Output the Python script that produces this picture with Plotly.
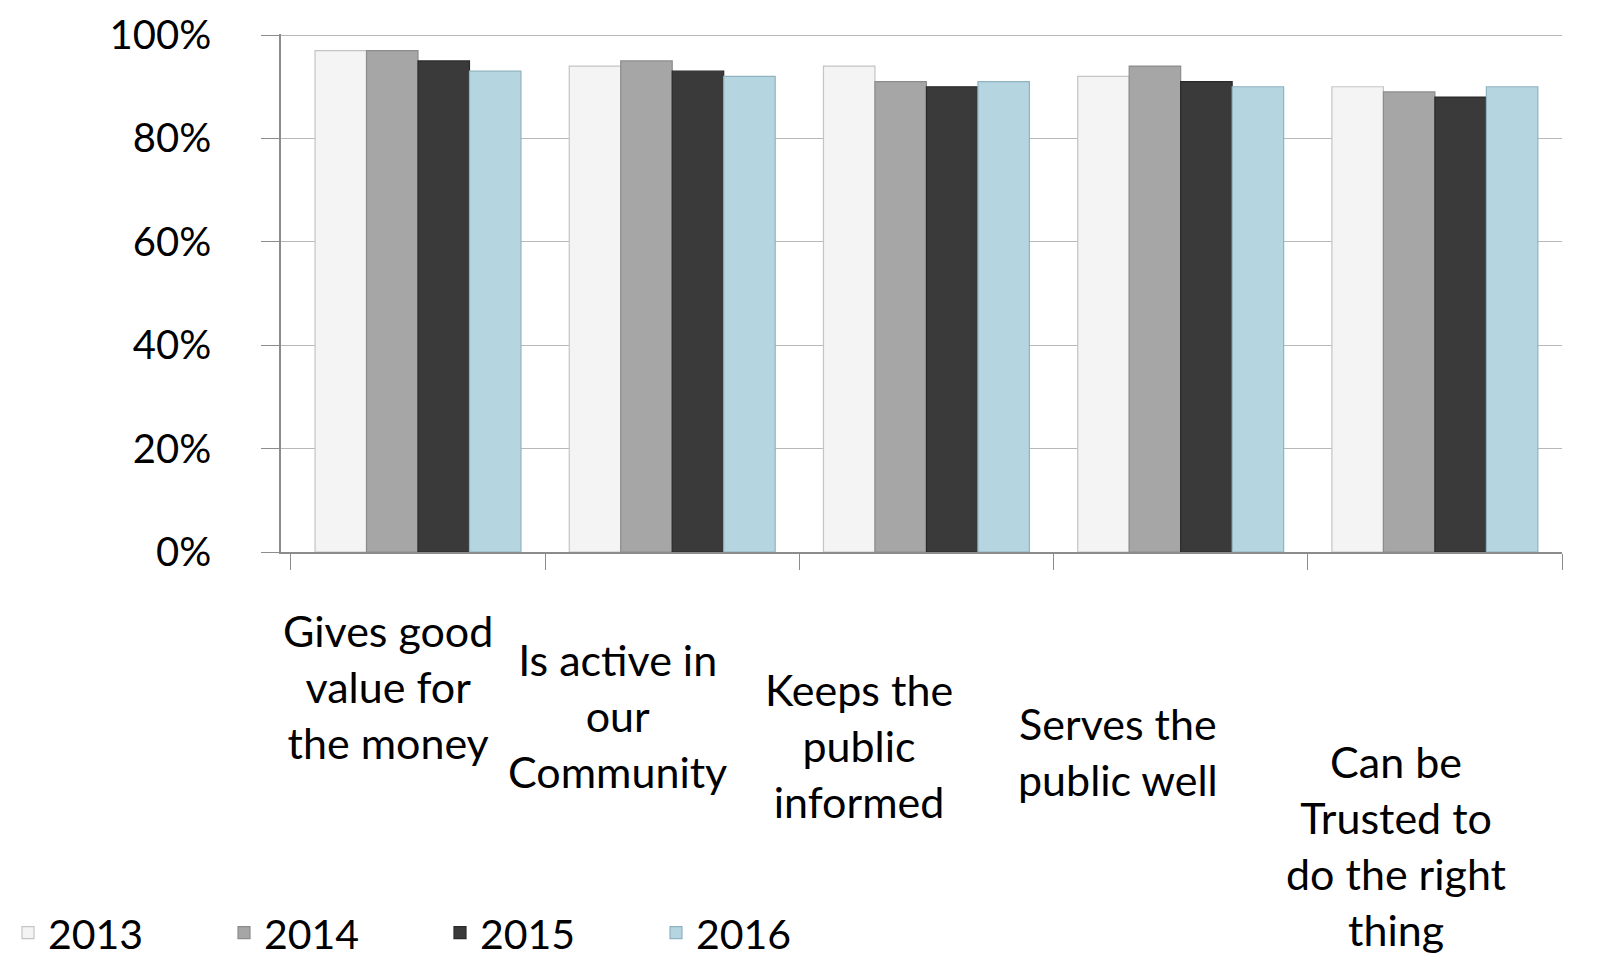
import plotly.graph_objects as go

categories = [
    "Gives good<br>value for<br>the money",
    "Is active in<br>our<br>Community",
    "Keeps the<br>public<br>informed",
    "Serves the<br>public well",
    "Can be<br>Trusted to<br>do the right<br>thing",
]
series_names = ["2013", "2014", "2015", "2016"]
values_2013 = [0.97, 0.94, 0.94, 0.92, 0.90]
values_2014 = [0.97, 0.95, 0.91, 0.94, 0.89]
values_2015 = [0.95, 0.93, 0.90, 0.91, 0.88]
values_2016 = [0.93, 0.92, 0.91, 0.90, 0.90]
y_ticks = [0, 0.2, 0.4, 0.6, 0.8, 1.0]
y_tick_labels = ["0%", "20%", "40%", "60%", "80%", "100%"]

# styles
colors = ["#f4f4f4", "#a6a6a6", "#3a3a3a", "#b5d5e0"]
outlines = ["#c4c4c4", "#8c8c8c", "#2a2a2a", "#8fb3c0"]
label_xshift = [-30, -55, -67, -63, -39]
PAGE_OFF = 8  # default body margin of the html page
label_ytop = [603, 632, 662, 696, 734]  # page-pixel tops of category labels

FONT = "Lato"
W, H = 1602 - PAGE_OFF, 971 - PAGE_OFF
top_m, bot_m = 34 - PAGE_OFF, 419
plot_h = H - top_m - bot_m

fig = go.Figure()
for name, vals, c, oc in zip(series_names,
                              [values_2013, values_2014, values_2015, values_2016],
                              colors, outlines):
    fig.add_trace(go.Bar(
        x=categories, y=vals, name=name,
        marker=dict(color=c, line=dict(color=oc, width=1.2)),
    ))

annotations = []
for cat, xs, yt in zip(categories, label_xshift, label_ytop):
    annotations.append(dict(
        x=cat, xref="x", y=(H - bot_m - (yt - PAGE_OFF)) / plot_h, yref="y domain",
        text=cat, showarrow=False, xshift=xs, yanchor="top", xanchor="center",
        font=dict(family=FONT, size=43, color="#000000"), align="center",
    ))

fig.update_layout(
    width=W, height=H,
    margin=dict(l=281 - PAGE_OFF, r=40, t=top_m, b=bot_m, autoexpand=False),
    paper_bgcolor="white", plot_bgcolor="white",
    barmode="group", bargap=0.19, bargroupgap=0.0,
    font=dict(family=FONT, size=41, color="#000000"),
    xaxis=dict(
        type="category", showticklabels=False, showgrid=False,
        showline=True, linecolor="#8c8c8c", linewidth=1.5,
        ticks="outside", tickson="boundaries", ticklen=16, tickcolor="#8c8c8c",
        automargin=False,
    ),
    yaxis=dict(
        range=[0, 1.002], tickvals=y_ticks, ticktext=y_tick_labels,
        showgrid=True, gridcolor="#b8b8b8", gridwidth=1.2,
        showline=True, linecolor="#8c8c8c", linewidth=1.5,
        ticks="outside", ticklen=18, tickcolor="#8c8c8c",
        tickfont=dict(family=FONT, size=40), zeroline=False,
        ticklabelstandoff=42, automargin=False, ticklabeloverflow="allow",
    ),
    legend=dict(
        orientation="h", xref="container", yref="container",
        x=0.0, y=(H - (933 - PAGE_OFF)) / H, xanchor="left", yanchor="middle",
        font=dict(family=FONT, size=41), entrywidth=171, entrywidthmode="pixels",
        itemwidth=30, traceorder="normal",
    ),
    annotations=annotations,
)

fig.write_html("out.html")
